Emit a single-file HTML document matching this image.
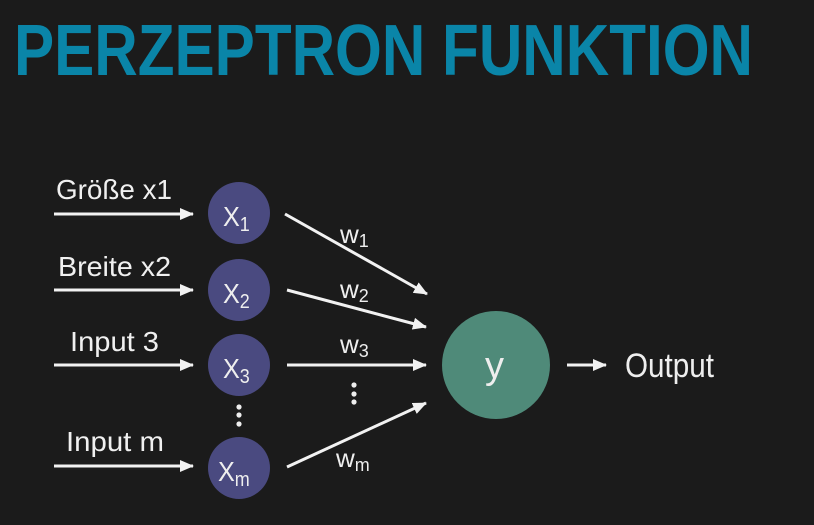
<!DOCTYPE html>
<html><head><meta charset="utf-8"><style>
html,body{margin:0;padding:0;background:#1b1b1b;}
svg{display:block;}
text{font-family:"Liberation Sans",sans-serif;}
</style></head><body>
<svg width="814" height="525" viewBox="0 0 814 525" xmlns="http://www.w3.org/2000/svg">
<defs>
<marker id="a" markerWidth="14" markerHeight="12" refX="13" refY="6" orient="auto" markerUnits="userSpaceOnUse">
<path d="M0,0 L14,6 L0,12 Z" fill="#f2f2f2"/></marker>
</defs>
<rect width="814" height="525" fill="#1b1b1b"/>
<text x="14" y="75" font-size="72" font-weight="bold" fill="#0a85a8" textLength="739" lengthAdjust="spacingAndGlyphs">PERZEPTRON FUNKTION</text>

<g fill="#f0f0f0" font-size="28">
<text x="56" y="199" textLength="116" lengthAdjust="spacingAndGlyphs">Größe x1</text>
<text x="58" y="276" textLength="113" lengthAdjust="spacingAndGlyphs">Breite x2</text>
<text x="70" y="351" textLength="89" lengthAdjust="spacingAndGlyphs">Input 3</text>
<text x="66" y="451" textLength="98" lengthAdjust="spacingAndGlyphs">Input m</text>
</g>

<g stroke="#f2f2f2" stroke-width="3" fill="none">
<line x1="54" y1="214" x2="193" y2="214" marker-end="url(#a)"/>
<line x1="54" y1="290" x2="193" y2="290" marker-end="url(#a)"/>
<line x1="54" y1="365" x2="193" y2="365" marker-end="url(#a)"/>
<line x1="54" y1="466" x2="193" y2="466" marker-end="url(#a)"/>
<line x1="285" y1="214" x2="427" y2="294" marker-end="url(#a)"/>
<line x1="287" y1="290" x2="426" y2="327" marker-end="url(#a)"/>
<line x1="287" y1="365" x2="426" y2="365" marker-end="url(#a)"/>
<line x1="287" y1="467" x2="426" y2="403" marker-end="url(#a)"/>
<line x1="567" y1="365" x2="606" y2="365" marker-end="url(#a)"/>
</g>

<g fill="#4a4a80">
<circle cx="239" cy="213" r="31"/>
<circle cx="239" cy="290" r="31"/>
<circle cx="239" cy="365" r="31"/>
<circle cx="239" cy="468" r="31"/>
</g>
<circle cx="496" cy="365" r="54" fill="#4f8a79"/>

<g fill="#eeeeee">
<text x="223" y="226" font-size="28" transform="translate(223 0) scale(0.9 1) translate(-223 0)">X<tspan font-size="20" dy="5">1</tspan></text>
<text x="223" y="303" font-size="28" transform="translate(223 0) scale(0.9 1) translate(-223 0)">X<tspan font-size="20" dy="5">2</tspan></text>
<text x="223" y="378" font-size="28" transform="translate(223 0) scale(0.9 1) translate(-223 0)">X<tspan font-size="20" dy="5">3</tspan></text>
<text x="218" y="481" font-size="28" transform="translate(218 0) scale(0.9 1) translate(-218 0)">X<tspan font-size="20" dy="5">m</tspan></text>
<text x="340" y="243" font-size="26">w<tspan font-size="18" dy="4">1</tspan></text>
<text x="340" y="298" font-size="26">w<tspan font-size="18" dy="4">2</tspan></text>
<text x="340" y="353" font-size="26">w<tspan font-size="18" dy="4">3</tspan></text>
<text x="336" y="467" font-size="26">w<tspan font-size="18" dy="4">m</tspan></text>
<text x="485" y="378" font-size="38">y</text>
<text x="625" y="377" font-size="34" textLength="89" lengthAdjust="spacingAndGlyphs">Output</text>
<circle cx="239" cy="407" r="2.6"/><circle cx="239" cy="415" r="2.6"/><circle cx="239" cy="424" r="2.6"/>
<circle cx="354" cy="385" r="2.6"/><circle cx="354" cy="394" r="2.6"/><circle cx="354" cy="402" r="2.6"/>
</g>
</svg>
</body></html>
